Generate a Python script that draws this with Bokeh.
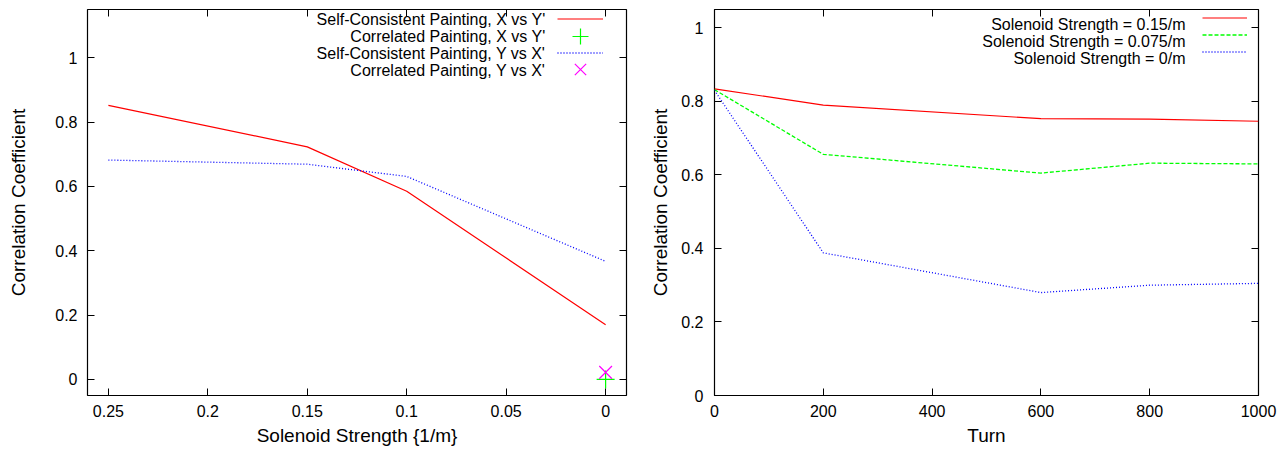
from bokeh.plotting import figure
from bokeh.models import (Range1d, FixedTicker, LinearAxis, Legend, LegendItem, Label,
                          CustomLabelingPolicy)
from bokeh.layouts import row
from bokeh.embed import file_html
from bokeh.resources import INLINE

# ---------------- Left panel data ----------------
strength = [0.25, 0.15, 0.1, 0.0]
sc_x_vs_yp = [0.852, 0.723, 0.585, 0.170]
sc_y_vs_xp = [0.682, 0.669, 0.631, 0.367]
corr_strength = [0.0]
corr_x_vs_yp = [0.0]
corr_y_vs_xp = [0.022]

left_xticks = [0.25, 0.2, 0.15, 0.1, 0.05, 0.0]
left_xlabels = ["0.25", "0.2", "0.15", "0.1", "0.05", "0"]
left_yticks = [0.0, 0.2, 0.4, 0.6, 0.8, 1.0]
left_ylabels = ["0", "0.2", "0.4", "0.6", "0.8", "1"]
left_legend = ["Self-Consistent Painting, X vs Y'",
               "Correlated Painting, X vs Y'",
               "Self-Consistent Painting, Y vs X'",
               "Correlated Painting, Y vs X'"]

# ---------------- Right panel data ----------------
turn = [0, 200, 600, 800, 1000]
sol_015 = [0.834, 0.790, 0.753, 0.752, 0.746]
sol_0075 = [0.832, 0.656, 0.605, 0.632, 0.630]
sol_0 = [0.830, 0.388, 0.280, 0.300, 0.305]

right_xticks = [0, 200, 400, 600, 800, 1000]
right_xlabels = ["0", "200", "400", "600", "800", "1000"]
right_yticks = [0.0, 0.2, 0.4, 0.6, 0.8, 1.0]
right_ylabels = ["0", "0.2", "0.4", "0.6", "0.8", "1"]
right_legend = ["Solenoid Strength = 0.15/m",
                "Solenoid Strength = 0.075/m",
                "Solenoid Strength = 0/m"]

FONT = "Liberation Sans"
FS = "16px"
TITLE_FS = "19px"

HIDE_ALL = "for (const i of Array.from(indices)) { indices.unset(i) } return indices"


def style_axis(ax, ticks, labels, show_labels=True):
    ax.ticker = FixedTicker(ticks=ticks)
    ax.major_tick_in = 7
    ax.major_tick_out = 0
    ax.minor_tick_line_color = None
    ax.major_tick_line_color = "black"
    ax.axis_line_color = None
    ax.major_label_text_font = FONT
    ax.major_label_text_color = "black"
    ax.major_label_text_font_size = FS
    ax.axis_label_text_font = FONT
    ax.axis_label_text_font_style = "normal"
    ax.axis_label_text_color = "black"
    ax.axis_label_text_font_size = TITLE_FS
    if show_labels:
        ax.major_label_overrides = {t: l for t, l in zip(ticks, labels)}
    else:
        # mirrored tick marks only (gnuplot style), no labels
        ax.major_label_text_font_size = "0px"
        ax.major_label_policy = CustomLabelingPolicy(code=HIDE_ALL)
        ax.major_label_standoff = 0


def make_fig(width, height, xr, yr, mb):
    p = figure(width=width, height=height, x_range=xr, y_range=yr,
               output_backend="svg", toolbar_location=None,
               min_border_left=mb[0], min_border_right=mb[1],
               min_border_top=mb[2], min_border_bottom=mb[3])
    p.grid.visible = False
    p.outline_line_color = "black"
    p.outline_line_width = 1.2
    p.background_fill_color = "white"
    p.border_fill_color = "white"
    return p


def sample_legend(renderer, loc, glyph_h):
    # one key sample (no text), placed at loc = bottom-left in frame pixels
    return Legend(items=[LegendItem(label="", renderers=[renderer])],
                  location=loc, margin=0, padding=0, spacing=0,
                  glyph_width=46, glyph_height=glyph_h, label_height=0, label_width=0,
                  label_standoff=0, label_text_font=FONT, label_text_font_size="10px",
                  border_line_color=None, background_fill_alpha=0)


# ---------------- Left figure ----------------
p1 = make_fig(640, 451, Range1d(0.2605, -0.0105), Range1d(-0.05, 1.15), (87, 14, 8, 53))
style_axis(p1.xaxis[0], left_xticks, left_xlabels)
style_axis(p1.yaxis[0], left_yticks, left_ylabels)
p1.xaxis[0].axis_label = "Solenoid Strength {1/m}"
p1.yaxis[0].axis_label = "Correlation Coefficient"
p1.xaxis[0].major_label_standoff = 9
p1.xaxis[0].axis_label_standoff = 5
p1.yaxis[0].major_label_standoff = 10
p1.yaxis[0].axis_label_standoff = 23
top1 = LinearAxis()
right1 = LinearAxis()
style_axis(top1, left_xticks, left_xlabels, show_labels=False)
style_axis(right1, left_yticks, left_ylabels, show_labels=False)
p1.add_layout(top1, "above")
p1.add_layout(right1, "right")

r1 = p1.line(strength, sc_x_vs_yp, line_color="#ff0000", line_width=1.2)
r2 = p1.scatter(corr_strength, corr_x_vs_yp, marker="cross", size=18,
                line_color="#00ff00", line_width=1.2)
r3 = p1.line(strength, sc_y_vs_xp, line_color="#0000ff", line_width=1.3, line_dash="1 2")
r4 = p1.scatter(corr_strength, corr_y_vs_xp, marker="x", size=18,
                line_color="#ff00ff", line_width=1.2)

# key rows: centre of row i is 13.5 + 17*i px below the frame top (frame height 390)
frame_h1 = 390
key_x1 = 470
p1.add_layout(sample_legend(r1, (key_x1, frame_h1 - 13.5 - 8.5), 17))
p1.add_layout(sample_legend(r2, (key_x1, frame_h1 - 30.5 - 20), 40))
p1.add_layout(sample_legend(r3, (key_x1, frame_h1 - 47.5 - 8.5), 17))
p1.add_layout(sample_legend(r4, (key_x1, frame_h1 - 64.0 - 20), 40))
for i, txt in enumerate(left_legend):
    p1.add_layout(Label(x=458, y=frame_h1 - 13.5 - 17 * i, x_units="screen", y_units="screen",
                        text=txt, text_align="right", text_baseline="middle",
                        text_font=FONT, text_font_size=FS, text_color="black"))

# ---------------- Right figure ----------------
p2 = make_fig(648, 451, Range1d(0, 1000), Range1d(0, 1.05), (74, 30, 9, 56))
style_axis(p2.xaxis[0], right_xticks, right_xlabels)
style_axis(p2.yaxis[0], right_yticks, right_ylabels)
p2.xaxis[0].axis_label = "Turn"
p2.yaxis[0].axis_label = "Correlation Coefficient"
p2.xaxis[0].major_label_standoff = 9
p2.xaxis[0].axis_label_standoff = 5
p2.yaxis[0].major_label_standoff = 11
p2.yaxis[0].axis_label_standoff = 7
top2 = LinearAxis()
right2 = LinearAxis()
style_axis(top2, right_xticks, right_xlabels, show_labels=False)
style_axis(right2, right_yticks, right_ylabels, show_labels=False)
p2.add_layout(top2, "above")
p2.add_layout(right2, "right")

s1 = p2.line(turn, sol_015, line_color="#ff0000", line_width=1.2)
s2 = p2.line(turn, sol_0075, line_color="#00ff00", line_width=1.3, line_dash="4 2")
s3 = p2.line(turn, sol_0, line_color="#0000ff", line_width=1.3, line_dash="1 2")

leg2 = Legend(items=[LegendItem(label="", renderers=[r]) for r in (s1, s2, s3)],
              location="top_right", margin=0, padding=6, spacing=0,
              glyph_width=45, glyph_height=17, label_height=17, label_width=11,
              label_standoff=0, label_text_font=FONT, label_text_font_size=FS,
              border_line_color=None, background_fill_alpha=0)
p2.add_layout(leg2)
for i, txt in enumerate(right_legend):
    p2.add_layout(Label(x=471, y=386 - 14.5 - 17 * i, x_units="screen", y_units="screen",
                        text=txt, text_align="right", text_baseline="middle",
                        text_font=FONT, text_font_size=FS, text_color="black"))

layout = row(p1, p2)
open("out.html", "w").write(file_html(layout, INLINE))
